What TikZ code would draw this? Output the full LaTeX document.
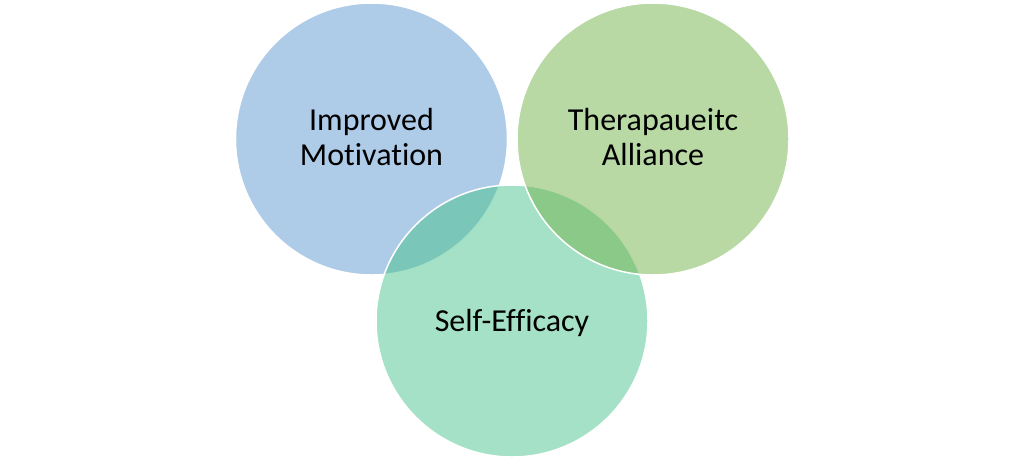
\documentclass[tikz,border=0pt]{standalone}
\usepackage{fontspec}
\setmainfont[Ligatures=CommonOff]{Carlito}
\definecolor{vblue}{RGB}{93,151,209}
\definecolor{vteal}{RGB}{73,195,141}
\definecolor{vgreen}{RGB}{113,177,73}
\begin{document}
\begin{tikzpicture}[x=1pt,y=-1pt]
\tikzset{
  venn/.style={circle, minimum size=272pt, inner sep=0pt, draw=white, line width=1.5pt, fill opacity=0.5, draw opacity=1},
  lbl/.style={font=\fontsize{32}{35}\selectfont, align=center, text=black, inner sep=0pt}
}
\useasboundingbox (0,0) rectangle (1024,461);
\node[venn, fill=vblue] (mot) at (371.5,139) {};
\node[venn, fill=vteal] (self) at (512,321) {};
\node[venn, fill=vgreen] (ther) at (653,139) {};
\node[lbl] (motl) at (371.5,137) {Improved\\Motivation};
\node[lbl] (therl) at (653,137) {Therapaueitc\\Alliance};
\node[lbl, anchor=base] (selfl) at (512,331) {Self-Efficacy};
\end{tikzpicture}
\end{document}
